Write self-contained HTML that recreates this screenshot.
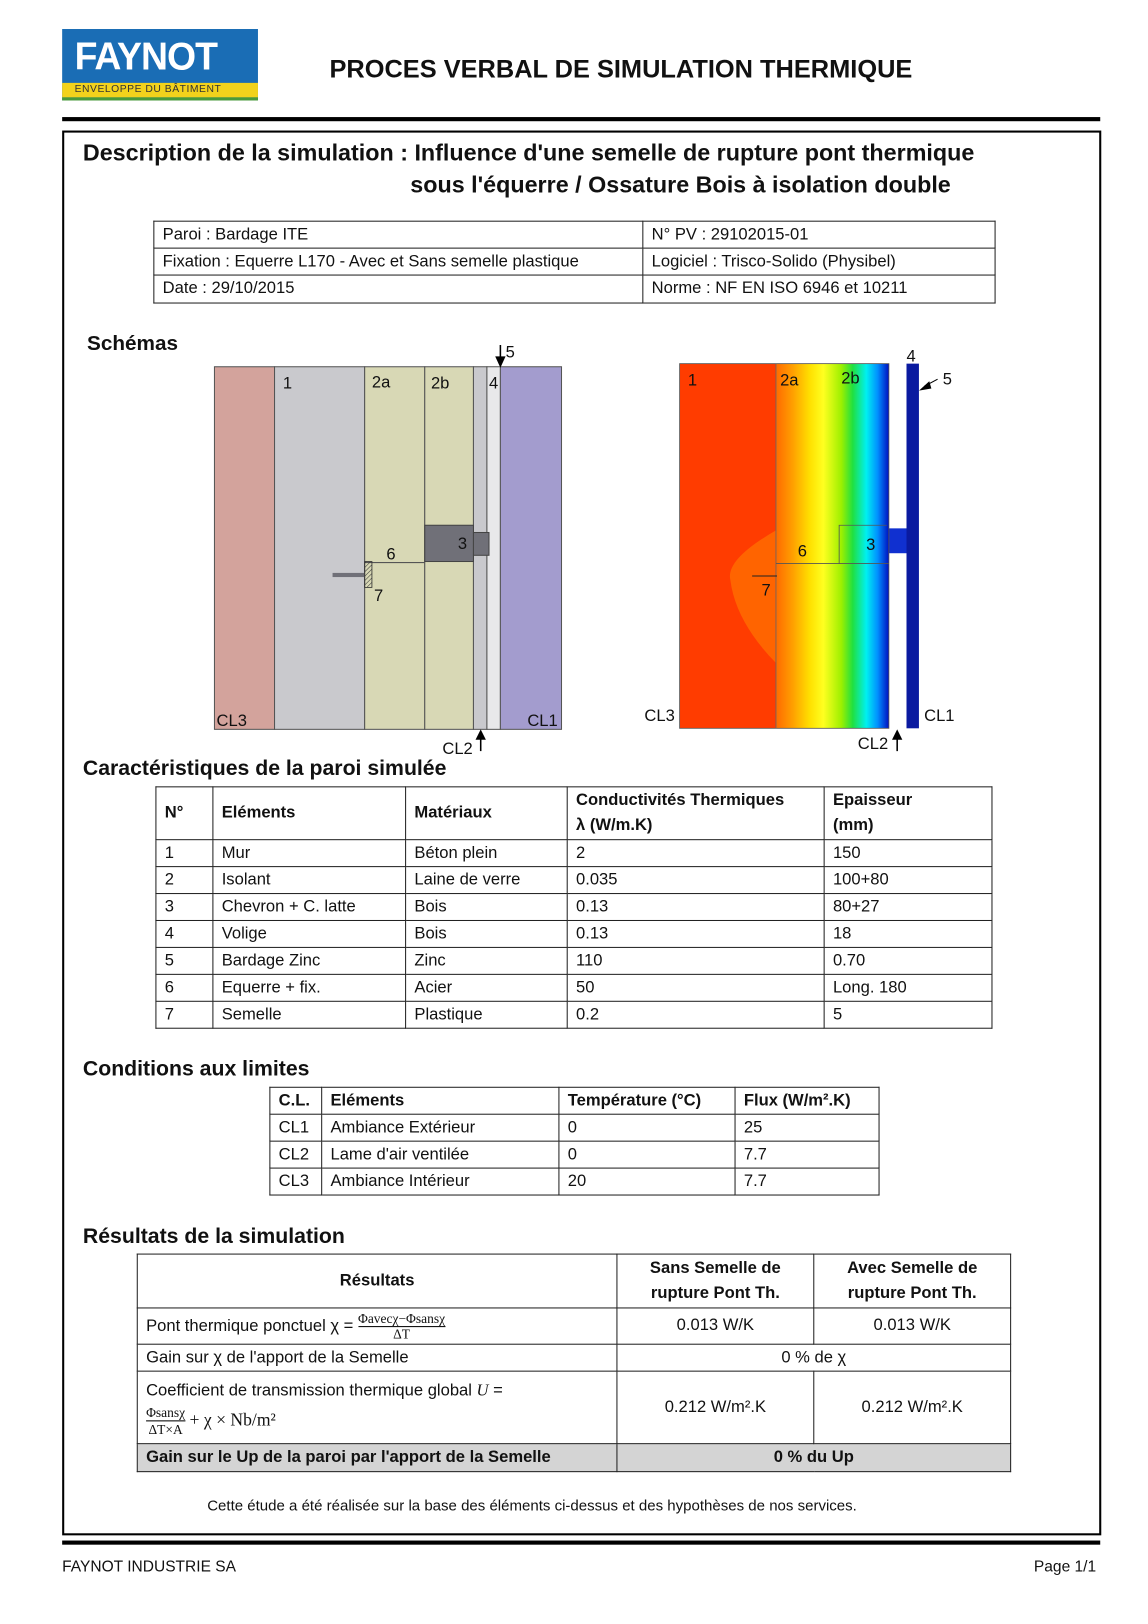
<!DOCTYPE html>
<html><head><meta charset="utf-8"><style>
*{margin:0;padding:0;box-sizing:border-box}
body{width:1148px;height:1624px;background:#fff;overflow:hidden;font-family:"Liberation Sans",sans-serif;color:#111}
#p{position:absolute;left:0;top:0;width:1100px;height:1556px;transform:scale(1.036);transform-origin:0 0}
.a{position:absolute;white-space:nowrap}
.b{font-weight:bold}
table{position:absolute;border-collapse:collapse;font-size:16px}
td{border:1px solid #222;padding:0 8px;white-space:nowrap;vertical-align:middle}
.r{position:absolute}
</style></head><body><div id="p">
<div class="r" style="left:60px;top:28px;width:189px;height:69px;background:#1a6db5"></div>
<div class="r" style="left:60px;top:80px;width:189px;height:14px;background:#f2d21c"></div>
<div class="r" style="left:60px;top:94px;width:189px;height:3px;background:#4a9a3a"></div>
<div class="a b" style="left:72px;top:34px;font-size:38px;color:#fff;letter-spacing:-1px;transform:scaleX(0.95);transform-origin:0 0">FAYNOT</div>
<div class="a" style="left:72px;top:81px;font-size:10px;color:#333;letter-spacing:0.5px">ENVELOPPE DU BÂTIMENT</div>
<div class="a b" style="left:318px;top:54px;font-size:24.5px">PROCES VERBAL DE SIMULATION THERMIQUE</div>
<div class="r" style="left:60px;top:113px;width:1002px;height:4px;background:#000"></div>
<div class="r" style="left:60px;top:126px;width:1003px;height:1356px;border:2px solid #000"></div>
<div class="a b" style="left:80px;top:135px;font-size:22.5px">Description de la simulation : Influence d'une semelle de rupture pont thermique</div>
<div class="a b" style="left:396px;top:166px;font-size:22.5px">sous l'équerre / Ossature Bois à isolation double</div>
<table style="left:148px;top:213px;width:813px;font-size:16px">
<tr style="height:26px"><td style="width:472px">Paroi : Bardage ITE</td><td>N° PV : 29102015-01</td></tr>
<tr style="height:26px"><td>Fixation : Equerre L170 - Avec et Sans semelle plastique</td><td>Logiciel : Trisco-Solido (Physibel)</td></tr>
<tr style="height:27px"><td>Date : 29/10/2015</td><td>Norme : NF EN ISO 6946 et 10211</td></tr>
</table>
<div class="a b" style="left:84px;top:321px;font-size:20px">Schémas</div>
<svg class="r" style="left:190px;top:325px" width="380" height="410" viewBox="190 325 380 410">
<defs><pattern id="h" width="3" height="3" patternUnits="userSpaceOnUse" patternTransform="rotate(45)"><line x1="0" y1="0" x2="0" y2="3" stroke="#333" stroke-width="1"/></pattern></defs>
<rect x="207" y="354" width="58" height="350" fill="#d3a39c" stroke="#555"/>
<rect x="265" y="354" width="87" height="350" fill="#c9c9cd" stroke="#555"/>
<rect x="352" y="354" width="58" height="350" fill="#d8d8b5" stroke="#555"/>
<rect x="410" y="354" width="47" height="350" fill="#d8d8b5" stroke="#555"/>
<rect x="457" y="354" width="13" height="350" fill="#c9c9cd" stroke="#555"/>
<rect x="470" y="354" width="13" height="350" fill="#e8e8ea" stroke="#555"/>
<rect x="483" y="354" width="59" height="350" fill="#a39cce" stroke="#555"/>
<rect x="410" y="507" width="47" height="35" fill="#707078" stroke="#444"/>
<rect x="457" y="514" width="15" height="22" fill="#707078" stroke="#444"/>
<line x1="352" y1="543" x2="410" y2="543" stroke="#555"/>
<rect x="321" y="553" width="31" height="4" fill="#707078"/>
<rect x="352" y="542" width="7" height="25" fill="url(#h)" stroke="#333" stroke-width="0.8"/>
<line x1="483" y1="333" x2="483" y2="352" stroke="#000" stroke-width="1.5"/><polygon points="478,344 488,344 483,355" fill="#000"/>
<line x1="464" y1="725" x2="464" y2="708" stroke="#000" stroke-width="1.5"/><polygon points="459,714 469,714 464,704" fill="#000"/>
<g font-family="Liberation Sans" font-size="16" fill="#111">
<text x="273" y="375">1</text><text x="359" y="374">2a</text><text x="416" y="375">2b</text><text x="472" y="375">4</text><text x="488" y="345">5</text>
<text x="442" y="530">3</text><text x="373" y="540">6</text><text x="361" y="580">7</text>
<text x="209" y="701">CL3</text><text x="509" y="701">CL1</text><text x="427" y="728">CL2</text></g>
</svg>
<svg class="r" style="left:600px;top:325px" width="340" height="410" viewBox="600 325 340 410">
<defs><linearGradient id="g" x1="0" x2="1">
<stop offset="0" stop-color="#ff6a00"/><stop offset="0.15" stop-color="#ffa000"/><stop offset="0.3" stop-color="#ffe000"/><stop offset="0.42" stop-color="#ffff20"/><stop offset="0.58" stop-color="#9cf000"/><stop offset="0.68" stop-color="#20e040"/><stop offset="0.8" stop-color="#00f0f0"/><stop offset="0.9" stop-color="#0090ff"/><stop offset="1" stop-color="#0010c0"/></linearGradient></defs>
<rect x="656" y="351" width="93" height="352" fill="#ff3c00"/>
<path d="M749 512 Q700 540 705 560 Q710 600 749 640 Z" fill="#ff6400"/>
<rect x="749" y="351" width="109" height="352" fill="url(#g)"/>
<rect x="858" y="510" width="20" height="24" fill="#1030d0"/>
<rect x="875" y="351" width="12" height="352" fill="#0a1aa0"/>
<rect x="656" y="351" width="202" height="352" fill="none" stroke="#555" stroke-width="0.8"/>
<line x1="749" y1="351" x2="749" y2="703" stroke="#666" stroke-width="0.8"/>
<path d="M749 544 H858 M810 544 V507 H856" stroke="#555" fill="none" stroke-width="0.8"/>
<line x1="726" y1="556" x2="750" y2="556" stroke="#222"/>
<line x1="866" y1="725" x2="866" y2="708" stroke="#000" stroke-width="1.5"/><polygon points="861,714 871,714 866,704" fill="#000"/>
<line x1="905" y1="366" x2="892" y2="373" stroke="#000"/><polygon points="887,377 897,368 899,375" fill="#000"/>
<g font-family="Liberation Sans" font-size="16" fill="#111">
<text x="664" y="372">1</text><text x="753" y="372">2a</text><text x="812" y="370">2b</text><text x="875" y="349">4</text><text x="910" y="371">5</text>
<text x="836" y="531">3</text><text x="770" y="537">6</text><text x="735" y="575">7</text>
<text x="622" y="696">CL3</text><text x="892" y="696">CL1</text><text x="828" y="723">CL2</text></g>
</svg>
<div class="a b" style="left:80px;top:730px;font-size:20.5px">Caractéristiques de la paroi simulée</div>
<table style="left:150px;top:759px;width:808px">
<tr style="height:51px"><td style="width:55px"><b>N°</b></td><td style="width:186px"><b>Eléments</b></td><td style="width:156px"><b>Matériaux</b></td><td style="width:248px;line-height:24px"><b>Conductivités Thermiques<br>λ (W/m.K)</b></td><td style="line-height:24px"><b>Epaisseur<br>(mm)</b></td></tr>
<tr style="height:26px"><td>1</td><td>Mur</td><td>Béton plein</td><td>2</td><td>150</td></tr>
<tr style="height:26px"><td>2</td><td>Isolant</td><td>Laine de verre</td><td>0.035</td><td>100+80</td></tr>
<tr style="height:26px"><td>3</td><td>Chevron + C. latte</td><td>Bois</td><td>0.13</td><td>80+27</td></tr>
<tr style="height:26px"><td>4</td><td>Volige</td><td>Bois</td><td>0.13</td><td>18</td></tr>
<tr style="height:26px"><td>5</td><td>Bardage Zinc</td><td>Zinc</td><td>110</td><td>0.70</td></tr>
<tr style="height:26px"><td>6</td><td>Equerre + fix.</td><td>Acier</td><td>50</td><td>Long. 180</td></tr>
<tr style="height:26px"><td>7</td><td>Semelle</td><td>Plastique</td><td>0.2</td><td>5</td></tr>
</table>
<div class="a b" style="left:80px;top:1020px;font-size:20.5px">Conditions aux limites</div>
<table style="left:260px;top:1049px;width:589px">
<tr style="height:26px"><td style="width:50px"><b>C.L.</b></td><td style="width:229px"><b>Eléments</b></td><td style="width:170px"><b>Température (°C)</b></td><td><b>Flux (W/m².K)</b></td></tr>
<tr style="height:26px"><td>CL1</td><td>Ambiance Extérieur</td><td>0</td><td>25</td></tr>
<tr style="height:26px"><td>CL2</td><td>Lame d'air ventilée</td><td>0</td><td>7.7</td></tr>
<tr style="height:26px"><td>CL3</td><td>Ambiance Intérieur</td><td>20</td><td>7.7</td></tr>
</table>
<div class="a b" style="left:80px;top:1182px;font-size:20.5px">Résultats de la simulation</div>
<table style="left:132px;top:1210px;width:844px">
<tr style="height:52px;line-height:24px"><td style="width:463px;text-align:center"><b>Résultats</b></td><td style="width:190px;text-align:center"><b>Sans Semelle de<br>rupture Pont Th.</b></td><td style="text-align:center"><b>Avec Semelle de<br>rupture Pont Th.</b></td></tr>
<tr style="height:35px"><td>Pont thermique ponctuel χ = <span style="display:inline-block;vertical-align:middle;text-align:center;font-family:'Liberation Serif',serif;font-size:13px;line-height:14px"><span style="border-bottom:1px solid #000;display:block">Φavecχ−Φsansχ</span>ΔT</span></td><td style="text-align:center">0.013 W/K</td><td style="text-align:center">0.013 W/K</td></tr>
<tr style="height:26px"><td>Gain sur χ de l'apport de la Semelle</td><td colspan="2" style="text-align:center">0 % de χ</td></tr>
<tr style="height:70px"><td style="line-height:26px">Coefficient de transmission thermique global <i style="font-family:'Liberation Serif',serif">U</i> =<br><span style="display:inline-block;vertical-align:middle;text-align:center;font-family:'Liberation Serif',serif;font-size:13px;line-height:15px"><span style="border-bottom:1px solid #000;display:block">Φsansχ</span>ΔT×A</span><span style="font-family:'Liberation Serif',serif;font-size:17px"> + χ × Nb/m²</span></td><td style="text-align:center">0.212 W/m².K</td><td style="text-align:center">0.212 W/m².K</td></tr>
<tr style="height:27px;background:#d4d4d4"><td><b>Gain sur le Up de la paroi par l'apport de la Semelle</b></td><td colspan="2" style="text-align:center"><b>0 % du Up</b></td></tr>
</table>
<div class="a" style="left:200px;top:1446px;font-size:14.5px">Cette étude a été réalisée sur la base des éléments ci-dessus et des hypothèses de nos services.</div>
<div class="r" style="left:60px;top:1487px;width:1002px;height:4px;background:#000"></div>
<div class="a" style="left:60px;top:1504px;font-size:15px">FAYNOT INDUSTRIE SA</div>
<div class="a" style="left:998px;top:1504px;font-size:15px">Page 1/1</div>
</div></body></html>
